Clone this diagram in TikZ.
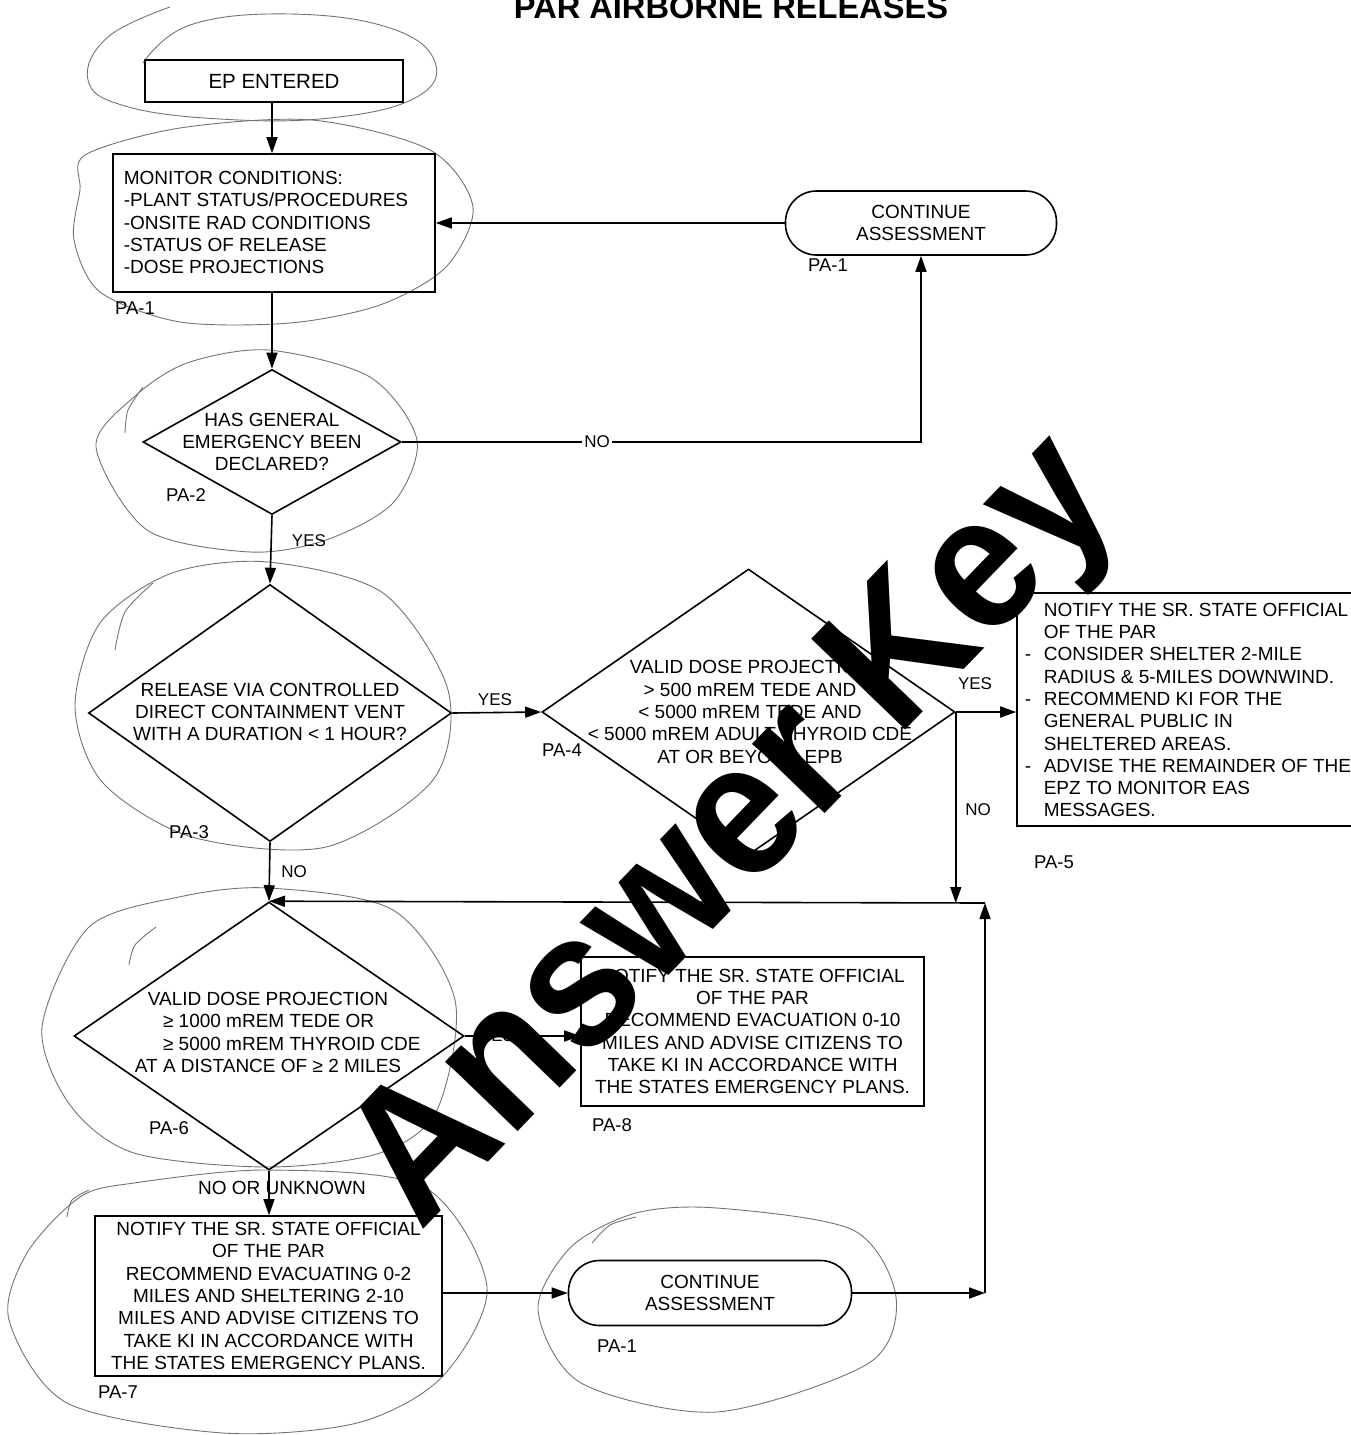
\documentclass[tikz,border=0pt]{standalone}
\usepackage{fontspec}
\setmainfont{Liberation Sans}
\newfontfamily\scanfont{Liberation Sans}
\newfontfamily\wmfont{Liberation Sans}[FakeStretch=0.93]
\usetikzlibrary{shapes.geometric,arrows.meta}
\begin{document}
\begin{tikzpicture}[x=1pt,y=-1pt,
  line width=1.6pt,
  body/.style={font=\scanfont\fontsize{19}{22.3}\selectfont},
  box/.style={draw, rectangle, inner sep=0pt, body, align=center},
  term/.style={draw, rectangle, rounded corners=31pt, inner sep=0pt, body, align=center},
  dia/.style={draw, diamond, inner sep=0pt},
  dtext/.style={inner sep=0pt, body, align=center},
  ltext/.style={inner sep=0pt, body, align=left, anchor=west},
  pa/.style={inner sep=0pt, font=\scanfont\fontsize{18.5}{20}\selectfont},
  lab/.style={inner sep=0pt, font=\scanfont\fontsize{17}{19}\selectfont},
  arr/.style={-{Triangle[length=16pt,width=11pt]}},
  pencil/.style={draw=black!55, line width=0.9pt},
]
\useasboundingbox (0,0) rectangle (1351,1435);

% ---------- hand-drawn pencil loops ----------
\draw[pencil] plot[smooth, tension=0.7] coordinates {(143,63) (190,25) (290,14) (390,28) (435,62) (415,98) (330,118) (220,119) (125,106) (88,80) (108,37) (170,7)};
\draw[pencil] plot[smooth cycle] coordinates {(85,155) (180,128) (312,120) (430,150) (473,207) (446,267) (380,305) (290,323) (180,322) (100,292) (74,240) (80,190)};
\draw[pencil] plot[smooth cycle] coordinates {(268,350) (370,377) (417,440) (393,503) (326,540) (250,552) (147,530) (96,447) (134,397) (187,363)};
\draw[pencil] plot[smooth] coordinates {(143,387) (128,410) (125,433)};
\draw[pencil] plot[smooth cycle] coordinates {(268,562) (383,593) (448,690) (433,780) (326,847) (192,837) (103,783) (75,707) (100,623) (172,573)};
\draw[pencil] plot[smooth] coordinates {(153,583) (125,612) (115,650)};
\draw[pencil] plot[smooth cycle] coordinates {(268,888) (393,910) (455,1000) (437,1110) (380,1153) (268,1167) (134,1153) (70,1105) (42,1027) (89,927) (179,897)};
\draw[pencil] plot[smooth] coordinates {(156,927) (135,945) (129,965)};
\draw[pencil] plot[smooth cycle] coordinates {(268,1170) (424,1187) (487,1287) (442,1377) (357,1423) (223,1433) (67,1403) (9,1320) (27,1253) (80,1197) (134,1183)};
\draw[pencil] plot[smooth] coordinates {(67,1217) (72,1200) (89,1190)};
\draw[pencil] plot[smooth cycle] coordinates {(717,1208) (853,1230) (896,1297) (869,1363) (717,1412) (581,1383) (538,1310) (571,1247) (636,1213)};
\draw[pencil] plot[smooth] coordinates {(592,1243) (610,1225) (636,1217)};

% ---------- title ----------
\node[font=\bfseries\fontsize{32.6}{36}\selectfont, anchor=base, inner sep=0pt] (title) at (731,18) {PAR AIRBORNE RELEASES};

% ---------- boxes ----------
\node[box, minimum width=258pt, minimum height=42pt, font=\scanfont\fontsize{20.5}{22}\selectfont] (ep) at (274,81) {EP ENTERED};
\node[box, minimum width=322pt, minimum height=138pt] (mon) at (274,223) {};
\node[ltext] (mont) at (123,222.5) {MONITOR CONDITIONS:\\-PLANT STATUS/PROCEDURES\\-ONSITE RAD CONDITIONS\\-STATUS OF RELEASE\\-DOSE PROJECTIONS};

\node[term, minimum width=271pt, minimum height=64pt] (ca1) at (921,223) {CONTINUE\\ASSESSMENT};

\node[dia, minimum width=258pt, minimum height=145pt] (d2) at (272,442) {};
\node[dtext] (t2) at (272,442) {HAS GENERAL\\EMERGENCY BEEN\\DECLARED?};

\node[dia, minimum width=363pt, minimum height=257pt] (d3) at (270,713) {};
\node[dtext] (t3) at (270,712) {RELEASE VIA CONTROLLED\\DIRECT CONTAINMENT VENT\\WITH A DURATION < 1 HOUR?};

\node[dia, minimum width=413pt, minimum height=286pt] (d4) at (748.5,712) {};
\node[dtext] (t4) at (750,712) {VALID DOSE PROJECTION\\> 500 mREM TEDE AND\\< 5000 mREM TEDE AND\\< 5000 mREM ADULT THYROID CDE\\AT OR BEYOND EPB};

\node[box, minimum width=336pt, minimum height=233pt] (p5) at (1185,709.5) {};
\node[ltext] (p5t) at (1024,710) {\hspace*{19pt}NOTIFY THE SR. STATE OFFICIAL\\
\hspace*{19pt}OF THE PAR\\
\makebox[19pt][l]{-}CONSIDER SHELTER 2-MILE\\
\hspace*{19pt}RADIUS \& 5-MILES DOWNWIND.\\
\makebox[19pt][l]{-}RECOMMEND KI FOR THE\\
\hspace*{19pt}GENERAL PUBLIC IN\\
\hspace*{19pt}SHELTERED AREAS.\\
\makebox[19pt][l]{-}ADVISE THE REMAINDER OF THE\\
\hspace*{19pt}EPZ TO MONITOR EAS\\
\hspace*{19pt}MESSAGES.};

\node[dia, minimum width=390pt, minimum height=268pt] (d6) at (269,1036) {};
\node[dtext] (t6) at (268,1032.5) {VALID DOSE PROJECTION\\
\makebox[210pt][l]{≥ 1000 mREM TEDE OR}\\
\makebox[210pt][l]{≥ 5000 mREM THYROID CDE}\\
AT A DISTANCE OF ≥ 2 MILES};

\node[box, minimum width=343pt, minimum height=149pt] (p8) at (752.5,1031.5) {NOTIFY THE SR. STATE OFFICIAL\\OF THE PAR\\RECOMMEND EVACUATION 0-10\\MILES AND ADVISE CITIZENS TO\\TAKE KI IN ACCORDANCE WITH\\THE STATES EMERGENCY PLANS.};

\node[box, minimum width=347pt, minimum height=160pt] (p7) at (268.5,1296) {NOTIFY THE SR. STATE OFFICIAL\\OF THE PAR\\RECOMMEND EVACUATING 0-2\\MILES AND SHELTERING 2-10\\MILES AND ADVISE CITIZENS TO\\TAKE KI IN ACCORDANCE WITH\\THE STATES EMERGENCY PLANS.};

\node[term, minimum width=283pt, minimum height=65pt] (ca2) at (710,1293) {CONTINUE\\ASSESSMENT};

% ---------- PA labels ----------
\node[pa] (pa1a) at (135,308) {PA-1};
\node[pa] (pa1b) at (828,265) {PA-1};
\node[pa] (pa2) at (186,495) {PA-2};
\node[pa] (pa3) at (189,832) {PA-3};
\node[pa] (pa4) at (562,750) {PA-4};
\node[pa] (pa5) at (1054,862) {PA-5};
\node[pa] (pa6) at (169,1128) {PA-6};
\node[pa] (pa8) at (612,1125) {PA-8};
\node[pa] (pa7) at (118,1392) {PA-7};
\node[pa] (pa1c) at (617,1346) {PA-1};

% ---------- connectors ----------
\coordinate (lc) at (985,903);
\draw[arr] (d2.north |- ep.south) -- (d2.north |- mon.north);
\draw[arr] (d2.north |- mon.south) -- (d2.north);
\draw[arr] (d2.east) -- (d2.east -| ca1.south) -- (ca1.south);
\draw[arr] (ca1.west) -- (mon.east);
\draw[arr] (d2.south) -- (d3.north);
\draw[arr] (d3.east) -- (d4.west);
\draw[arr] (d3.south) -- (d6.north);
\draw[arr] (d4.east) -- (d4.east -| p5.west);
\draw[arr] (d4.east) -- (d4.east |- lc);
\draw[arr] (ca2.east) -- (ca2.east -| lc);
\draw[arr] (ca2.east -| lc) -- (lc);
\draw[arr] (lc) -- (d6.north);
\draw[arr] (d6.east) -- (d6.east -| p8.west);
\draw[arr] (d6.south) -- (d6.south |- p7.north);
\draw[arr] (p7.east |- ca2.west) -- (ca2.west);

% ---------- connector labels ----------
\node[lab, fill=white, inner sep=2pt] (lno1) at (597,442) {NO};
\node[lab] (lyes1) at (309,541) {YES};
\node[lab] (lyes2) at (495,700) {YES};
\node[lab] (lno2) at (294,872) {NO};
\node[lab] (lyes3) at (975,684) {YES};
\node[lab] (lno3) at (978,810) {NO};
\node[lab] (lyes4) at (497,1036) {YES};
\node[inner sep=0pt, body] (lnou) at (282,1188) {NO OR UNKNOWN};

% ---------- watermark ----------
\node[rotate=46, anchor=base west, inner sep=0pt, font=\wmfont\bfseries\fontsize{190}{190}\selectfont] (wm) at (420,1233) {Answer Key};
\end{tikzpicture}
\end{document}
